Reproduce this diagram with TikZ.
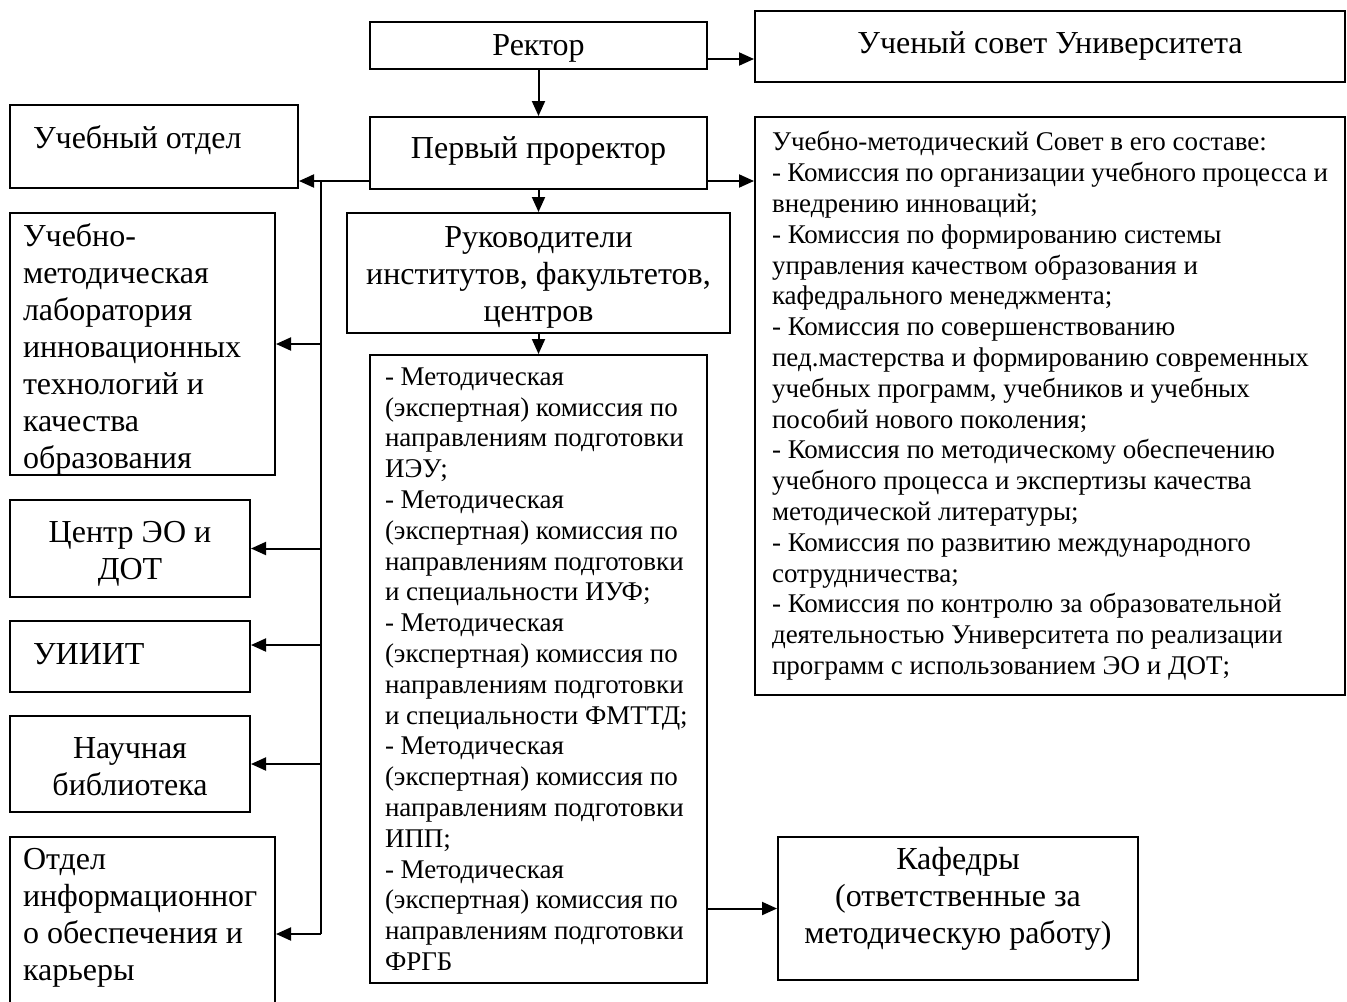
\documentclass[tikz,border=0pt]{standalone}
\usepackage{fontspec}
\setmainfont{Liberation Serif}
\usetikzlibrary{arrows.meta}
\newcommand\bigf{\fontsize{16pt}{18.5pt}\selectfont}
\newcommand\smf{\fontsize{13.5pt}{15.4pt}\selectfont}
\newcommand\shft[2]{\raisebox{#1}[\height][\depth]{#2}}
\newcommand\cpar[2]{\parbox{#1}{\centering #2}}
\newcommand\lpar[2]{\parbox{#1}{\raggedright #2}}
\tikzset{
  box/.style={draw, line width=1pt, inner sep=0pt, align=center, font=\bigf},
  pbox/.style={draw, line width=1pt, inner sep=0pt, font=\bigf},
  wh/.style 2 args={minimum width=#1*0.5pt, minimum height=#2*0.5pt},
  arr/.style={line width=1pt, -{Triangle[length=7.5pt,width=6.5pt]}},
  ln/.style={line width=1pt},
}
\begin{document}
\begin{tikzpicture}[x=0.5pt,y=-0.5pt]
\useasboundingbox (0,0) rectangle (1347,1001);
\fill[white] (0,0) rectangle (1347,1001);
\clip (0,0) rectangle (1347,1001);

% top row
\node[pbox, wh={337}{47}] (rector) at (538.5,45.5) {\shft{-1.5pt}{Ректор}};
\node[pbox, wh={590}{71}] (sovet) at (1050,46) {Ученый совет Университета};
\node[pbox, wh={337}{72}] (first) at (538.5,153) {\shft{1pt}{Первый проректор}};
\node[pbox, wh={288}{83}] (uotd) at (154,146.5) {\shft{3pt}{\lpar{121pt}{Учебный отдел}}};

% right council
\node[pbox, font=\smf, wh={590}{578}] (umsov) at (1050,406) {\lpar{278pt}{%
Учебно-методический Совет в его составе:\\
- Комиссия по организации учебного процесса и\\
внедрению инноваций;\\
- Комиссия по формированию системы\\
управления качеством образования и\\
кафедрального менеджмента;\\
- Комиссия по совершенствованию\\
пед.мастерства и формированию современных\\
учебных программ, учебников и учебных\\
пособий нового поколения;\\
- Комиссия по методическому обеспечению\\
учебного процесса и экспертизы качества\\
методической литературы;\\
- Комиссия по развитию международного\\
сотрудничества;\\
- Комиссия по контролю за образовательной\\
деятельностью Университета по реализации\\
программ с использованием ЭО и ДОТ;}};

% middle column
\node[pbox, wh={383}{120}] (ruk) at (538.5,273) {\shft{-2pt}{\cpar{185pt}{Руководители\\институтов, факультетов,\\центров}}};
\node[pbox, font=\smf, wh={337}{628}] (list) at (538.5,669) {\lpar{153.5pt}{%
- Методическая\\
(экспертная) комиссия по\\
направлениям подготовки\\
ИЭУ;\\
- Методическая\\
(экспертная) комиссия по\\
направлениям подготовки\\
и специальности ИУФ;\\
- Методическая\\
(экспертная) комиссия по\\
направлениям подготовки\\
и специальности ФМТТД;\\
- Методическая\\
(экспертная) комиссия по\\
направлениям подготовки\\
ИПП;\\
- Методическая\\
(экспертная) комиссия по\\
направлениям подготовки\\
ФРГБ}};
\node[pbox, wh={360}{143}] (kaf) at (958,908.5) {\shft{5pt}{\cpar{170pt}{Кафедры\\(ответственные за\\методическую работу)}}};

% left column
\node[pbox, wh={265}{262}] (lab) at (142.5,344) {\shft{-2.5pt}{\lpar{119.5pt}{Учебно-\\методическая\\лаборатория\\инновационных\\технологий и\\качества\\образования}}};
\node[pbox, wh={240}{97}] (centr) at (130,548.5) {\shft{-2.5pt}{\cpar{110pt}{Центр ЭО и\\ДОТ}}};
\node[pbox, wh={240}{71}] (uiiit) at (130,656.5) {\shft{1pt}{\lpar{97pt}{УИИИТ}}};
\node[pbox, wh={240}{96}] (bibl) at (130,764) {\shft{-1.5pt}{\cpar{110pt}{Научная\\библиотека}}};
\node[pbox, wh={265}{173}] (otd) at (142.5,923.5) {\shft{3pt}{\lpar{119.5pt}{Отдел\\информационног\\о обеспечения и\\карьеры}}};

% connectors
\coordinate (r1) at ([yshift=5.5pt]rector.south east);
\draw[arr] (r1) -- (sovet.west |- r1);
\draw[arr] (rector.south) -- (first.north);
\coordinate (f1) at ([yshift=4.5pt]first.south east);
\draw[arr] (f1) -- (umsov.west |- f1);
\coordinate (f2) at ([yshift=4.5pt]first.south west);
\draw[arr] (f2) -- (uotd.east |- f2);
\draw[arr] (first.south) -- (ruk.north);
\draw[arr] (ruk.south) -- (list.north);
\draw[arr] (list.east |- kaf.west) -- (kaf.west);

\coordinate (bt) at (321,0 |- f2);
\coordinate (uin) at ([yshift=5.75pt]uiiit.east);
\coordinate (oin) at ([yshift=-5.25pt]otd.east);
\coordinate (bb) at (bt |- oin);
\draw[ln] (bt) -- (bb);
\draw[arr] (bt |- lab.east) -- (lab.east);
\draw[arr] (bt |- centr.east) -- (centr.east);
\draw[arr] (bt |- uin) -- (uin);
\draw[arr] (bt |- bibl.east) -- (bibl.east);
\draw[arr] (bb) -- (oin);
\end{tikzpicture}
\end{document}
